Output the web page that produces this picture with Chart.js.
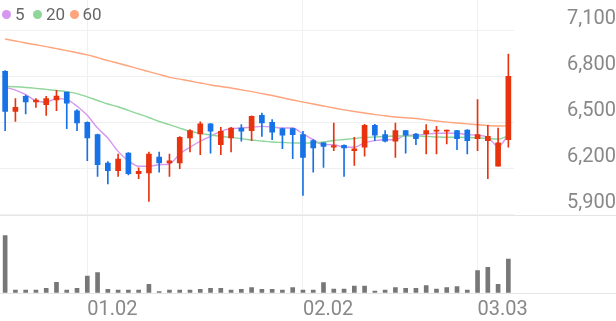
<!DOCTYPE html>
<html><head><meta charset="utf-8">
<script src="https://cdn.jsdelivr.net/npm/chart.js@4.4.1/dist/chart.umd.min.js"></script>
<style>
html,body{margin:0;padding:0;background:#fff;}
#wrap{position:relative;width:616px;height:321px;overflow:hidden;}
#c{position:absolute;left:0;top:0;}
.lg{position:absolute;top:3px;font-family:Roboto,sans-serif;font-weight:400;font-size:17px;color:#666;line-height:22px;white-space:nowrap;}
.dot{position:absolute;width:9px;height:9px;border-radius:50%;top:10px;}
</style></head><body>
<div id="wrap"><canvas id="c" width="616" height="321"></canvas><div id="legend"></div></div>
<script>
const dates = ['12.18','12.19','12.22','12.23','12.24','12.26','12.29','12.30',
  '01.02','01.05','01.06','01.07','01.08','01.09','01.12','01.13','01.14','01.15','01.16',
  '01.19','01.20','01.21','01.22','01.23','01.26','01.27','01.28','01.29','01.30',
  '02.02','02.03','02.04','02.05','02.06','02.09','02.10','02.11','02.12','02.13',
  '02.19','02.20','02.23','02.24','02.25','02.26','02.27','03.03','03.04','03.05','03.06'];
const tickDates = ['01.02','02.02','03.03'];
const priceTicks = [5900, 6200, 6500, 6800, 7100];

const openP  = [6835,6574,6672,6635,6617,6648,6700,6578,6503,6422,6237,6187,6302,6167,6172,6276,6237,6237,6400,6426,6492,6357,6400,6465,6448,6548,6503,6461,6461,6422,6383,6368,6340,6352,6317,6340,6483,6422,6379,6448,6426,6426,6444,6444,6448,6452,6396,6383,6216,6389];
const highP  = [6840,6657,6680,6657,6672,6711,6700,6585,6505,6425,6246,6296,6305,6205,6309,6309,6296,6410,6455,6505,6495,6470,6470,6487,6545,6563,6520,6465,6465,6444,6390,6370,6498,6355,6405,6490,6490,6448,6498,6450,6430,6487,6476,6452,6450,6455,6650,6483,6465,6948];
const lowP   = [6448,6509,6557,6600,6548,6578,6461,6448,6252,6150,6100,6150,6160,6135,5987,6178,6150,6200,6309,6291,6302,6291,6309,6379,6383,6411,6389,6330,6265,6026,6178,6209,6317,6150,6222,6281,6383,6375,6274,6302,6357,6296,6296,6361,6324,6296,6317,6135,6216,6340];
const closeP = [6574,6600,6635,6648,6657,6674,6628,6498,6400,6226,6187,6263,6167,6183,6296,6237,6252,6405,6448,6492,6444,6444,6465,6444,6542,6498,6439,6418,6422,6274,6335,6346,6350,6335,6330,6483,6418,6379,6448,6418,6396,6448,6452,6452,6396,6383,6422,6411,6368,6803];
const volume = [570,27,27,27,43,103,27,43,167,200,33,27,27,27,83,10,27,27,27,33,43,43,27,33,50,33,33,27,50,27,27,100,37,37,67,67,17,27,50,43,43,70,37,50,60,27,220,253,83,337];

const ma5  = [6731,6713,6683,6643,6635,6657,6650,6607,6548,6465,6400,6313,6252,6216,6216,6226,6231,6296,6340,6379,6411,6444,6461,6465,6470,6476,6472,6465,6465,6426,6389,6357,6357,6340,6340,6368,6383,6389,6389,6418,6418,6426,6431,6431,6431,6422,6418,6405,6346,6418];
const ma20 = [6737,6734,6730,6724,6717,6710,6703,6690,6668,6645,6622,6604,6580,6557,6534,6508,6487,6465,6444,6430,6420,6410,6404,6396,6387,6381,6374,6371,6368,6368,6368,6374,6384,6390,6397,6404,6407,6410,6413,6413,6413,6410,6407,6405,6405,6404,6402,6397,6392,6415];
const ma60 = [7046,7033,7020,7008,6996,6983,6970,6956,6942,6924,6905,6888,6870,6851,6833,6815,6796,6784,6772,6759,6746,6736,6726,6714,6703,6690,6677,6663,6648,6635,6622,6609,6596,6584,6573,6563,6553,6545,6537,6532,6527,6519,6511,6504,6498,6492,6487,6482,6478,6480];
const maNames = ['5','20','60'];

const UP = '#e8330f', DOWN = '#1672e6';
const MA_COLORS = ['#d597ef', '#8ed69a', '#ffa47c'];
const candleColors = closeP.map((c, i) => c >= openP[i] ? UP : DOWN);

const lg = document.getElementById('legend');
const legendPos = [[1.5,15],[32.5,46],[69.5,82.5]];
maNames.forEach((n, i) => {
  const d = document.createElement('div'); d.className = 'dot';
  d.style.left = legendPos[i][0] + 'px'; d.style.background = MA_COLORS[i]; lg.appendChild(d);
  const t = document.createElement('div'); t.className = 'lg';
  t.style.left = legendPos[i][1] + 'px'; t.textContent = n; lg.appendChild(t);
});

const fmt = v => String(v).replace(/\B(?=(\d{3})+(?!\d))/g, ',');

const extraLines = {
  id: 'extraLines',
  beforeDatasetsDraw(chart) {
    const ctx = chart.ctx, y = chart.scales.y, yv = chart.scales.yv;
    ctx.save();
    ctx.strokeStyle = '#e6e6e6'; ctx.lineWidth = 1;
    const p = Math.round(y.getPixelForValue(priceTicks[0])) + 0.5;
    ctx.beginPath(); ctx.moveTo(0, p); ctx.lineTo(chart.width, p); ctx.stroke();
    const b = Math.round(yv.getPixelForValue(0)) + 0.5;
    ctx.beginPath(); ctx.moveTo(0, b); ctx.lineTo(chart.width, b); ctx.stroke();
    ctx.restore();
  }
};

const noPad = s => { s.paddingTop = 0; s.paddingBottom = 0; s.paddingLeft = 0; s.paddingRight = 0; };

const maLine = (data, i) => ({
  type: 'line', label: 'MA' + maNames[i], data, yAxisID: 'y', order: 5,
  borderColor: MA_COLORS[i], borderWidth: 1.4, pointRadius: 0,
  cubicInterpolationMode: 'monotone', fill: false
});

new Chart(document.getElementById('c'), {
  type: 'bar',
  data: {
    labels: dates,
    datasets: [
      maLine(ma60, 2), maLine(ma20, 1), maLine(ma5, 0),
      { label: 'wick', data: lowP.map((l, i) => [l, highP[i]]), yAxisID: 'y', order: 2,
        backgroundColor: candleColors, barThickness: 1, grouped: false },
      { label: 'body', data: openP.map((o, i) => [o, closeP[i]]), yAxisID: 'y', order: 1,
        backgroundColor: candleColors, barThickness: 5, grouped: false, minBarLength: 1 },
      { label: 'volume', data: volume, yAxisID: 'yv', order: 1,
        backgroundColor: '#777777', barThickness: 4, grouped: false }
    ]
  },
  options: {
    responsive: false, animation: false, devicePixelRatio: 1,
    layout: { padding: 0 },
    plugins: { legend: { display: false }, tooltip: { enabled: false } },
    scales: {
      x: {
        offset: true,
        grid: { offset: false, color: '#f0f0f0', drawTicks: false },
        border: { display: false },
        ticks: { autoSkip: false, maxRotation: 0, minRotation: 0, align: 'start', padding: 5,
          color: '#888', font: { family: 'Roboto', size: 20, weight: 400 } },
        afterBuildTicks: s => { s.ticks = s.ticks.filter(t => tickDates.includes(dates[t.value])); },
        afterFit: s => { s.height = 28.3; noPad(s); }
      },
      y: {
        position: 'right', min: 5391.3, max: 7300.2,
        afterBuildTicks: s => { s.ticks = priceTicks.map(v => ({ value: v })); },
        grid: { color: '#f0f0f0', drawTicks: false },
        border: { display: false },
        ticks: { color: '#888', font: { family: 'Roboto', size: 20, weight: 400 },
          padding: 48, crossAlign: 'far', labelOffset: -12, callback: v => fmt(v) },
        afterFit: s => { s.width = 102.5; noPad(s); }
      },
      yv: { display: false, position: 'right', min: 0, max: 2927 }
    }
  },
  plugins: [extraLines]
});
</script>
</body></html>
